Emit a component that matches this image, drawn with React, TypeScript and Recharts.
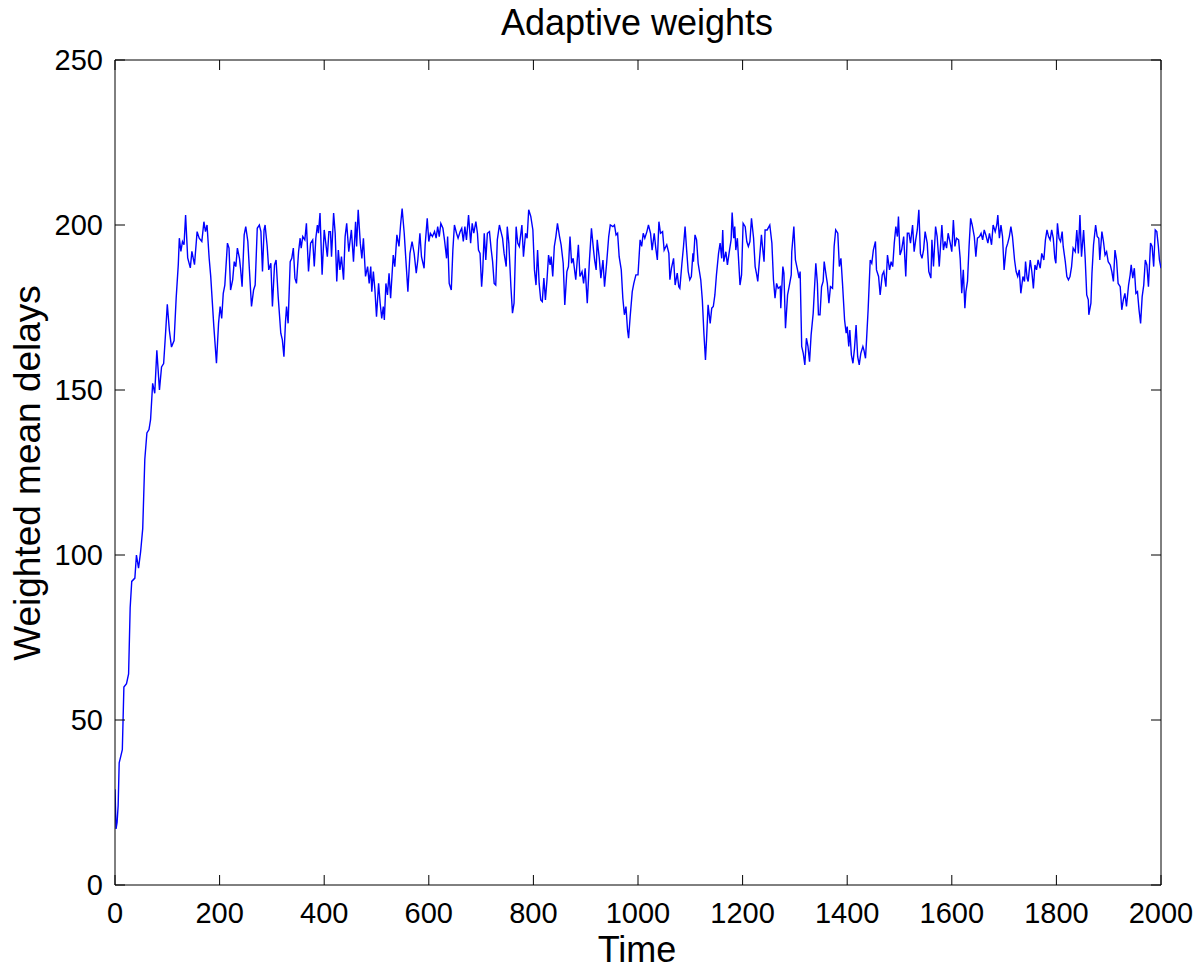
import React from 'react';
import { LineChart, Line, XAxis, YAxis, ReferenceLine } from 'recharts';

// initial ramp-up, time steps 0..180
const riseTimes = [
  0, 2, 4, 6, 8, 11, 14, 17, 22, 26,
  29, 32, 38, 41, 45, 49, 53, 57, 61, 65,
  68, 72, 76, 80, 85, 89, 93, 97, 100, 104,
  108, 113, 117, 121, 123, 126, 129, 132, 135, 139,
  144, 147, 152, 157, 161, 166, 170, 173, 176, 180,
];
const riseDelays = [
  29, 17, 19, 24, 37, 39, 41, 60, 61, 64,
  84, 92, 93, 100, 96, 101, 108, 129, 137, 138,
  141, 152, 149, 162, 150, 157, 158, 168, 176, 168,
  163, 165, 178, 188, 196, 192, 195, 194, 203, 190,
  187, 192, 188, 198, 196, 195, 201, 198, 200, 190,
];

// plateau, time steps 183..2000
const plateauTimes = [
  183, 189, 194, 198, 201, 204, 207, 210, 215, 218,
  221, 225, 228, 231, 234, 238, 240, 243, 247, 250,
  254, 257, 261, 265, 268, 272, 276, 279, 282, 285,
  287, 291, 294, 298, 301, 305, 308, 312, 317, 320,
  323, 326, 328, 331, 335, 338, 341, 344, 347, 351,
  354, 356, 359, 363, 366, 370, 374, 378, 381, 384,
  387, 389, 392, 396, 400, 403, 406, 409, 412, 414,
  418, 421, 424, 427, 430, 433, 437, 440, 443, 447,
  452, 456, 460, 462, 465, 469, 472, 475, 479, 483,
  486, 489, 491, 494, 497, 500, 504, 507, 510, 513,
  515, 518, 521, 524, 527, 532, 535, 539, 543, 546,
  549, 553, 556, 560, 564, 568, 572, 576, 579, 583,
  586, 591, 593, 597, 600, 603, 607, 611, 614, 617,
  620, 623, 627, 630, 634, 636, 639, 643, 646, 649,
  653, 656, 660, 663, 666, 669, 672, 676, 680, 683,
  686, 690, 693, 695, 698, 701, 703, 706, 709, 712,
  716, 719, 722, 725, 728, 731, 735, 738, 741, 744,
  748, 750, 753, 757, 760, 763, 767, 770, 773, 778,
  781, 785, 788, 791, 795, 799, 802, 805, 808, 811,
  814, 817, 820, 823, 826, 829, 832, 834, 837, 840,
  843, 846, 850, 853, 857, 860, 864, 867, 870, 873,
  876, 881, 886, 889, 893, 896, 899, 903, 907, 911,
  915, 917, 920, 922, 926, 929, 933, 936, 940, 944,
  947, 952, 955, 958, 961, 964, 968, 971, 974, 977,
  980, 982, 985, 989, 992, 996, 1000, 1004, 1007, 1010,
  1013, 1017, 1020, 1024, 1027, 1031, 1034, 1037, 1040, 1043,
  1047, 1050, 1055, 1059, 1061, 1064, 1068, 1071, 1075, 1078,
  1080, 1084, 1087, 1090, 1093, 1096, 1099, 1102, 1105, 1106,
  1109, 1112, 1115, 1120, 1123, 1126, 1129, 1131, 1134, 1138,
  1141, 1144, 1147, 1150, 1154, 1157, 1160, 1162, 1164, 1168,
  1171, 1175, 1178, 1180, 1183, 1185, 1187, 1190, 1195, 1198,
  1201, 1205, 1208, 1211, 1214, 1217, 1221, 1224, 1227, 1229,
  1232, 1236, 1238, 1241, 1243, 1247, 1252, 1256, 1259, 1262,
  1265, 1268, 1272, 1273, 1277, 1279, 1282, 1286, 1289, 1293,
  1294, 1298, 1301, 1305, 1308, 1310, 1313, 1316, 1319, 1322,
  1325, 1328, 1331, 1335, 1340, 1343, 1345, 1348, 1351, 1354,
  1356, 1360, 1362, 1365, 1368, 1372, 1375, 1378, 1382, 1385,
  1388, 1391, 1395, 1398, 1400, 1403, 1405, 1408, 1411, 1414,
  1417, 1420, 1423, 1426, 1430, 1432, 1435, 1437, 1440, 1444,
  1447, 1450, 1454, 1456, 1460, 1463, 1467, 1470, 1474, 1477,
  1481, 1484, 1487, 1490, 1493, 1496, 1498, 1501, 1504, 1508,
  1512, 1515, 1518, 1521, 1525, 1528, 1531, 1534, 1537, 1540,
  1543, 1546, 1549, 1553, 1556, 1560, 1562, 1565, 1569, 1572,
  1576, 1581, 1584, 1587, 1590, 1593, 1597, 1600, 1603, 1606,
  1609, 1613, 1616, 1619, 1622, 1625, 1627, 1630, 1633, 1636,
  1639, 1643, 1646, 1649, 1653, 1656, 1659, 1662, 1665, 1669,
  1672, 1676, 1679, 1683, 1686, 1688, 1691, 1694, 1697, 1700,
  1704, 1707, 1710, 1713, 1716, 1720, 1723, 1726, 1729, 1732,
  1736, 1739, 1741, 1744, 1746, 1750, 1753, 1756, 1759, 1762,
  1765, 1769, 1772, 1776, 1779, 1782, 1785, 1788, 1791, 1794,
  1797, 1799, 1802, 1805, 1808, 1811, 1813, 1817, 1820, 1823,
  1826, 1829, 1832, 1836, 1839, 1842, 1845, 1848, 1852, 1855,
  1858, 1861, 1862, 1866, 1868, 1871, 1875, 1878, 1881, 1883,
  1887, 1890, 1893, 1896, 1899, 1903, 1906, 1909, 1912, 1915,
  1918, 1922, 1925, 1928, 1931, 1934, 1938, 1941, 1943, 1946,
  1949, 1952, 1955, 1958, 1961, 1964, 1967, 1970, 1973, 1976,
  1980, 1983, 1986, 1989, 1992, 1995, 1997, 2000,
];
const plateauDelays = [
  184.5, 169.2, 158.1, 170.2, 175.3, 171.7, 179.3, 181.8, 194.5, 193,
  180.3, 183.4, 188.9, 187.4, 193, 189.9, 186.9, 181.3, 197, 199.5,
  195, 186.4, 175.3, 180.3, 181.8, 199, 200, 198, 185.9, 198.5,
  200, 193.5, 186.4, 188.4, 175.3, 187.9, 189.4, 178.3, 167.2, 165.2,
  160.1, 170.7, 175.3, 170.2, 188.9, 189.9, 193, 183.9, 182.3, 191.9,
  196, 193, 196.5, 195.5, 200.5, 185.9, 194.5, 195.5, 187.4, 196,
  200, 197.5, 203.6, 184.9, 198.5, 194.5, 190.4, 198, 198, 190.4,
  203.6, 197.5, 182.9, 192.4, 186.4, 190.4, 183.4, 196.5, 200.5, 191.9,
  198.5, 188.9, 201, 193.5, 204.6, 194.5, 189.9, 196, 184.4, 187.4,
  182.3, 187.4, 179.8, 185.9, 180.3, 172.2, 182.3, 176.3, 171.7, 175.3,
  171.2, 182.3, 178.8, 185.4, 177.8, 190.9, 187.4, 197, 193.5, 200,
  205, 197.5, 189.9, 179.8, 191.4, 195, 191.4, 185.4, 189.4, 197.5,
  190.4, 186.9, 194, 202, 195, 197.5, 196.5, 198, 196, 199.5,
  196.5, 200.5, 199, 195.5, 189.9, 196.5, 182.3, 180.3, 192.4, 200,
  197.5, 196, 198, 199, 195, 199.5, 195.5, 203, 194.5, 200.5,
  197.5, 201, 197.5, 192.4, 191.4, 181.3, 185.9, 197.5, 189.4, 197.5,
  198, 193, 188.9, 182.3, 181.8, 195.5, 200, 198, 196, 191.4,
  187.4, 199.5, 194.5, 181.3, 173.3, 176.3, 199.5, 194.5, 193.5, 200,
  190.4, 197.5, 196, 204.6, 202.6, 198.5, 186.4, 181.8, 192.4, 182.3,
  177.3, 176.8, 183.9, 177.3, 183.4, 190.9, 187.9, 190.4, 184.4, 193.5,
  196.5, 200.5, 196.5, 194, 188.4, 175.8, 185.9, 187.4, 196.5, 188.4,
  189.9, 183.4, 194, 184.4, 185.9, 182.3, 186.9, 176.3, 188.9, 199,
  192.4, 189.4, 186.4, 195.5, 189.9, 183.9, 189.4, 181.3, 188.4, 196.5,
  200, 199.5, 200, 197, 197.5, 190.4, 186.4, 177.8, 172.8, 175.3,
  168.2, 165.7, 172.2, 179.8, 182.3, 184.9, 184.9, 195.5, 193.5, 197.5,
  196, 198, 200, 197.5, 192.4, 197.5, 193, 189.4, 201, 197.5,
  198, 192.4, 194, 191.4, 183.4, 186.9, 189.9, 181.8, 185.4, 181.3,
  180.8, 188.4, 193.5, 199.5, 192.4, 185.9, 183.4, 184.4, 191.4, 188.9,
  197, 195.5, 188.4, 183.4, 177.3, 167.2, 159.1, 165.2, 175.8, 170.2,
  174.8, 175.3, 178.8, 184.9, 191.4, 194.5, 189.9, 198.5, 188.9, 191.9,
  187.9, 192.4, 195.5, 203.8, 196, 199.5, 192.4, 196, 181.8, 184.9,
  200.5, 199.5, 195, 193.5, 195, 202, 196, 187.4, 184.9, 182.9,
  188.9, 197, 193.5, 188.9, 198.5, 198.5, 200, 194.5, 183.4, 177.8,
  182.3, 180.8, 181.3, 174.8, 187.4, 185.4, 168.7, 178.8, 181.3, 184.9,
  191.9, 199.5, 189.4, 186.4, 183.9, 185.9, 163.2, 161.1, 157.6, 165.7,
  163.2, 158.6, 166.7, 173.3, 188.4, 182.3, 172.8, 172.8, 181.3, 182.9,
  188.9, 184.4, 182.3, 176.3, 181.3, 180.8, 193.5, 198.5, 197.5, 187.4,
  189.9, 182.3, 171.2, 167.2, 169.2, 163.2, 168.2, 160.6, 158.1, 162.7,
  169.7, 160.1, 157.6, 161.1, 163.2, 162.1, 159.6, 165.2, 174.3, 189.4,
  188.4, 192.4, 195, 186.4, 184.4, 178.8, 184.9, 185.9, 181.3, 190.9,
  186.4, 188.9, 187.4, 194.5, 199.5, 196.5, 202.6, 190.9, 192.4, 196.5,
  184.4, 197.5, 197.5, 194.5, 200, 191.9, 195.5, 198.5, 204.6, 191.4,
  189.9, 192.4, 198, 194.5, 185.9, 183.9, 195.5, 187.4, 199.5, 196.5,
  187.4, 200, 192.4, 195, 193, 197.5, 194.5, 191.9, 201.5, 193.5,
  196, 195.5, 189.9, 179.3, 186.4, 174.8, 179.8, 182.9, 193.5, 202,
  200, 196.5, 190.4, 196, 196.5, 197.5, 195.5, 198.5, 197, 194.5,
  197.5, 194, 200, 198, 200, 203, 196, 200, 196.5, 186.4,
  193, 194.5, 196.5, 199.5, 196.5, 189.4, 185.9, 184.4, 186.4, 179.3,
  184.4, 182.9, 188.9, 183.9, 182.9, 189.4, 185.9, 180.8, 187.9, 186.4,
  189.4, 186.9, 191.4, 189.4, 195.5, 198.5, 196.5, 195.5, 198.5, 196,
  189.9, 188.4, 200.5, 196, 195, 198, 193.5, 188.9, 184.4, 183.4,
  184.4, 187.4, 193, 191.9, 198.5, 191.4, 203, 190.4, 198.5, 189.9,
  178.8, 177.3, 172.8, 176.3, 185.4, 194, 200, 196.5, 196, 189.4,
  198, 195, 190.9, 191.9, 188.9, 187.9, 185.9, 182.9, 192.4, 189.4,
  182.3, 181.3, 174.3, 177.3, 179.3, 175.3, 181.8, 184.9, 187.9, 183.9,
  186.9, 179.3, 179.8, 174.3, 170.2, 178.3, 181.8, 189.4, 187.9, 181.3,
  194.5, 193.5, 187.4, 198.5, 198, 193.5, 189.4, 186.9,
];

const timeTicks = [0, 200, 400, 600, 800, 1000, 1200, 1400, 1600, 1800, 2000];
const delayTicks = [0, 50, 100, 150, 200, 250];

const times = [...riseTimes, ...plateauTimes];
const delays = [...riseDelays, ...plateauDelays];
const data = times
  .map((t, i) => ({ time: t, delay: delays[i] }))
  .filter((d) => d.delay !== undefined);

const FONT = '"Liberation Sans", Arial, Helvetica, sans-serif';

// plot box (from the chart margins below)
const W = 1204;
const H = 973;
const MARGIN = { top: 60, right: 43, left: 35, bottom: 28 };
const Y_AXIS_W = 80;
const X_AXIS_H = 60;
const BOX_TOP = MARGIN.top;
const BOX_BOTTOM = H - MARGIN.bottom - X_AXIS_H;
const BOX_LEFT = MARGIN.left + Y_AXIS_W;
const BOX_RIGHT = W - MARGIN.right;
const TICK_LEN = 10;

// matlab style: ticks point inwards, on all four sides
function TimeTick(props: any) {
  const { x, payload } = props;
  return (
    <g>
      <line x1={x} x2={x} y1={BOX_BOTTOM} y2={BOX_BOTTOM - TICK_LEN} stroke="#000" />
      <line x1={x} x2={x} y1={BOX_TOP} y2={BOX_TOP + TICK_LEN} stroke="#000" />
      <text
        x={x}
        y={BOX_BOTTOM + 17}
        dy="0.71em"
        textAnchor="middle"
        fill="#000"
        fontSize={29}
        fontFamily={FONT}
      >
        {payload.value}
      </text>
    </g>
  );
}

function DelayTick(props: any) {
  const { y, payload } = props;
  return (
    <g>
      <line x1={BOX_LEFT} x2={BOX_LEFT + TICK_LEN} y1={y} y2={y} stroke="#000" />
      <line x1={BOX_RIGHT} x2={BOX_RIGHT - TICK_LEN} y1={y} y2={y} stroke="#000" />
      <text
        x={BOX_LEFT - 12}
        y={y}
        dy="0.355em"
        textAnchor="end"
        fill="#000"
        fontSize={29}
        fontFamily={FONT}
      >
        {payload.value}
      </text>
    </g>
  );
}

export default function App() {
  return (
    <div
      style={{
        position: 'absolute',
        left: 0,
        top: 0,
        width: W,
        height: H,
        background: '#fff',
        fontFamily: FONT,
        color: '#000',
      }}
    >
      <LineChart width={W} height={H} data={data} margin={MARGIN}>
        <XAxis
          dataKey="time"
          type="number"
          domain={[0, 2000]}
          ticks={timeTicks}
          interval={0}
          allowDataOverflow
          height={X_AXIS_H}
          tickLine={false}
          axisLine={{ stroke: '#000' }}
          tick={<TimeTick />}
        />
        <YAxis
          type="number"
          domain={[0, 250]}
          ticks={delayTicks}
          interval={0}
          allowDataOverflow
          width={Y_AXIS_W}
          tickLine={false}
          axisLine={{ stroke: '#000' }}
          tick={<DelayTick />}
        />
        <ReferenceLine y={250} stroke="#000" />
        <ReferenceLine x={2000} stroke="#000" />
        <Line
          dataKey="delay"
          type="linear"
          stroke="#0000ff"
          strokeWidth={1.4}
          dot={false}
          isAnimationActive={false}
        />
      </LineChart>

      <div
        style={{
          position: 'absolute',
          left: 637,
          top: 5,
          transform: 'translateX(-50%)',
          fontSize: 36,
          lineHeight: 1,
          whiteSpace: 'nowrap',
        }}
      >
        Adaptive weights
      </div>
      <div
        style={{
          position: 'absolute',
          left: 637,
          top: 932,
          transform: 'translateX(-50%)',
          fontSize: 36,
          lineHeight: 1,
          whiteSpace: 'nowrap',
        }}
      >
        Time
      </div>
      <div
        style={{
          position: 'absolute',
          left: 27,
          top: 473,
          transform: 'translate(-50%, -50%) rotate(-90deg)',
          fontSize: 37,
          lineHeight: 1,
          whiteSpace: 'nowrap',
        }}
      >
        Weighted mean delays
      </div>
    </div>
  );
}
